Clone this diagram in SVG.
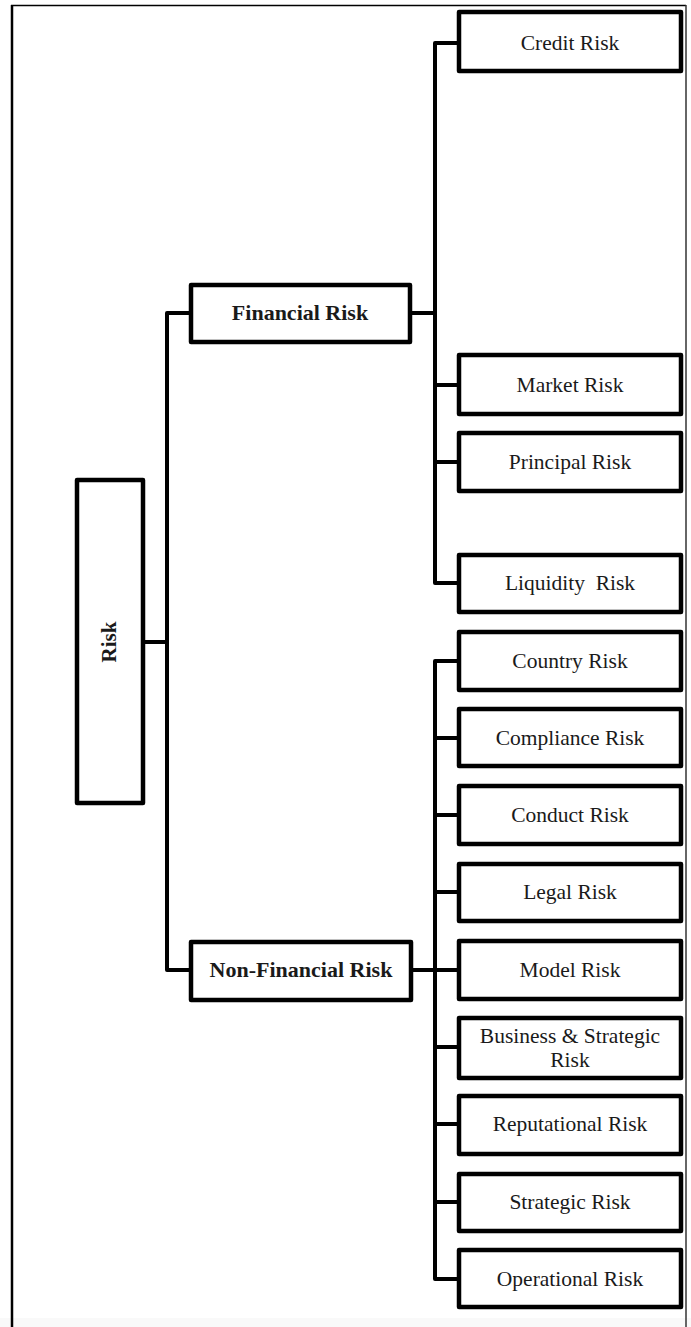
<svg xmlns="http://www.w3.org/2000/svg" width="691" height="1327" viewBox="0 0 691 1327">
<style>
.box{fill:#fff;stroke:#000;stroke-width:4.5;stroke-linejoin:round}
.con{fill:none;stroke:#000;stroke-width:4;stroke-linejoin:round}
.t{font-family:"Liberation Serif","Times New Roman",serif;font-size:21.5px;fill:#1a1a1a;text-anchor:middle}
.b{font-weight:bold;font-size:22px}
.r{font-weight:bold;font-size:21px}
</style>
<rect x="0" y="0" width="691" height="1327" fill="#fff"/>
<rect x="0" y="1318" width="691" height="9" fill="#f9f9f9"/>
<g id="frame" fill="none" stroke="#000">
<line x1="12" y1="5" x2="12" y2="1327" stroke-width="2.5"/>
<line x1="11" y1="5.5" x2="686" y2="5.5" stroke-width="1.5"/>
<line x1="686" y1="5" x2="686" y2="1327" stroke-width="1.5" stroke="#333"/>
</g>
<g id="connectors" class="con">
<path d="M143,642 H167"/>
<path d="M191,313 H167 V970 H191"/>
<path d="M410,313 H435"/>
<path d="M459,43 H435 V583 H459"/>
<path d="M435,385 H459"/>
<path d="M435,462 H459"/>
<path d="M411,970 H435"/>
<path d="M459,661 H435 V1279 H459"/>
<path d="M435,738 H459"/>
<path d="M435,815 H459"/>
<path d="M435,892 H459"/>
<path d="M435,970 H459"/>
<path d="M435,1047 H459"/>
<path d="M435,1124 H459"/>
<path d="M435,1202 H459"/>
</g>
<g id="risk"><rect class="box" x="77" y="480" width="66" height="323"/><text class="t r" transform="translate(116,642) rotate(-90)" x="0" y="0">Risk</text></g>
<g id="financial"><rect class="box" x="191" y="285" width="219" height="57"/><text class="t b" x="300" y="320">Financial Risk</text></g>
<g id="nonfinancial"><rect class="box" x="191" y="942" width="220" height="58"/><text class="t b" x="301" y="977">Non-Financial Risk</text></g>
<g id="credit"><rect class="box" x="459" y="12" width="222" height="59"/><text class="t" x="570" y="50">Credit Risk</text></g>
<g id="market"><rect class="box" x="459" y="355" width="222" height="59"/><text class="t" x="570" y="392">Market Risk</text></g>
<g id="principal"><rect class="box" x="459" y="433" width="222" height="58"/><text class="t" x="570" y="469">Principal Risk</text></g>
<g id="liquidity"><rect class="box" x="459" y="555" width="222" height="57"/><text class="t" x="570" y="590" xml:space="preserve">Liquidity  Risk</text></g>
<g id="country"><rect class="box" x="459" y="632" width="222" height="58"/><text class="t" x="570" y="668">Country Risk</text></g>
<g id="compliance"><rect class="box" x="459" y="709" width="222" height="57"/><text class="t" x="570" y="745">Compliance Risk</text></g>
<g id="conduct"><rect class="box" x="459" y="786" width="222" height="58"/><text class="t" x="570" y="822">Conduct Risk</text></g>
<g id="legal"><rect class="box" x="459" y="864" width="222" height="57"/><text class="t" x="570" y="899">Legal Risk</text></g>
<g id="model"><rect class="box" x="459" y="941" width="222" height="58"/><text class="t" x="570" y="977">Model Risk</text></g>
<g id="business"><rect class="box" x="459" y="1018" width="222" height="60"/><text class="t" x="570" y="1043">Business &amp; Strategic</text><text class="t" x="570" y="1067">Risk</text></g>
<g id="reputational"><rect class="box" x="459" y="1096" width="222" height="58"/><text class="t" x="570" y="1131">Reputational Risk</text></g>
<g id="strategic"><rect class="box" x="459" y="1174" width="222" height="57"/><text class="t" x="570" y="1209">Strategic Risk</text></g>
<g id="operational"><rect class="box" x="459" y="1250" width="222" height="57"/><text class="t" x="570" y="1286">Operational Risk</text></g>
</svg>
